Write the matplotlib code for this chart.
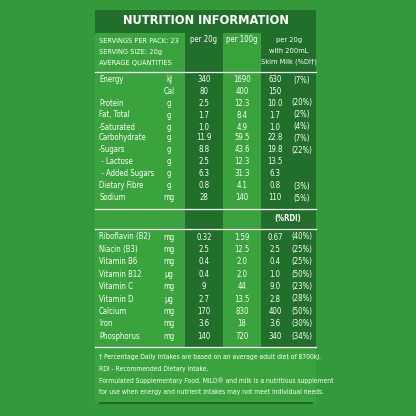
import matplotlib.pyplot as plt
from matplotlib.patches import Rectangle

FONT = ['DejaVu Sans']

nutrients = ['Energy', '', 'Protein', 'Fat, Total', '-Saturated', 'Carbohydrate', '-Sugars',
             ' - Lactose', ' - Added Sugars', 'Dietary Fibre', 'Sodium']
units = ['kJ', 'Cal', 'g', 'g', 'g', 'g', 'g', 'g', 'g', 'g', 'mg']
per20 = ['340', '80', '2.5', '1.7', '1.0', '11.9', '8.8', '2.5', '6.3', '0.8', '28']
per100 = ['1690', '400', '12.3', '8.4', '4.9', '59.5', '43.6', '12.3', '31.3', '4.1', '140']
milk = ['630', '150', '10.0', '1.7', '1.0', '22.8', '19.8', '13.5', '6.3', '0.8', '110']
milk_pct = ['(7%)', '', '(20%)', '(2%)', '(4%)', '(7%)', '(22%)', '', '', '(3%)', '(5%)']

vitamins = ['Riboflavin (B2)', 'Niacin (B3)', 'Vitamin B6', 'Vitamin B12', 'Vitamin C',
            'Vitamin D', 'Calcium', 'Iron', 'Phosphorus']
v_units = ['mg', 'mg', 'mg', 'µg', 'mg', 'µg', 'mg', 'mg', 'mg']
v_per20 = ['0.32', '2.5', '0.4', '0.4', '9', '2.7', '170', '3.6', '140']
v_per100 = ['1.59', '12.5', '2.0', '2.0', '44', '13.5', '830', '18', '720']
v_milk = ['0.67', '2.5', '0.4', '1.0', '9.0', '2.8', '400', '3.6', '340']
v_pct = ['(40%)', '(25%)', '(25%)', '(50%)', '(23%)', '(28%)', '(50%)', '(30%)', '(34%)']

footnotes = ['† Percentage Daily Intakes are based on an average adult diet of 8700kJ.',
             'RDI - Recommended Dietary Intake.',
             'Formulated Supplementary Food. MILO® and milk is a nutritious supplement',
             'for use when energy and nutrient intakes may not meet individual needs.']

BG = '#34993a'
BODY = '#3ba33d'
DARK = '#216f2b'

fig = plt.figure(figsize=(4.16, 4.16), dpi=100, facecolor=BG)
ax = fig.add_axes([0, 0, 1, 1])
ax.set_xlim(0, 416)
ax.set_ylim(416, 0)
ax.axis('off')

ax.add_patch(Rectangle((95, 10), 221, 393, color=BODY, lw=0))
ax.add_patch(Rectangle((95, 10), 221, 23, color=DARK, lw=0))
ax.add_patch(Rectangle((185, 33), 38, 314, color=DARK, lw=0))
ax.add_patch(Rectangle((261, 33), 55, 314, color=DARK, lw=0))
for y in (72, 209, 229, 347):
    ax.plot([95, 316], [y, y], color='white', lw=0.9)
ax.plot([100, 312], [403, 403], color='#1d5e25', lw=1.2)

def t(x, y, s, ha='left', size=5.6, **kw):
    ax.text(x, y, s, ha=ha, va='center', color='white', fontsize=size, family=FONT,
            fontstretch='condensed', **kw)

ax.text(206, 21, 'NUTRITION INFORMATION', ha='center', va='center', color='white',
        fontsize=9.2, fontweight='bold', family=FONT, fontstretch='condensed')
for i, s in enumerate(['SERVINGS PER PACK: 23', 'SERVING SIZE: 20g', 'AVERAGE QUANTITIES']):
    t(99, 41 + 11 * i, s, size=5.3)
t(204, 40, 'per 20g', 'center')
t(242, 40, 'per 100g', 'center')
for i, s in enumerate(['per 20g', 'with 200mL', 'Skim Milk (%DI†)']):
    t(289, 40 + 11 * i, s, 'center', size=5.3)

ys = [80, 92, 103, 115, 127, 138, 150, 162, 174, 186, 198]
for y, n, u, a, b, m, p in zip(ys, nutrients, units, per20, per100, milk, milk_pct):
    t(99, y, n)
    t(169, y, u, 'center')
    t(204, y, a, 'center')
    t(242, y, b, 'center')
    t(275, y, m, 'center')
    t(302, y, p, 'center')

t(288, 219, '(%RDI)', 'center', fontweight='bold')

for i, (n, u, a, b, m, p) in enumerate(zip(vitamins, v_units, v_per20, v_per100, v_milk, v_pct)):
    y = 237 + 12.4 * i
    t(99, y, n)
    t(169, y, u, 'center')
    t(204, y, a, 'center')
    t(242, y, b, 'center')
    t(275, y, m, 'center')
    t(302, y, p, 'center')

for i, s in enumerate(footnotes):
    t(99, 357 + 11.7 * i, s, size=4.9)

fig.savefig('out.png', dpi=100, facecolor=BG)
